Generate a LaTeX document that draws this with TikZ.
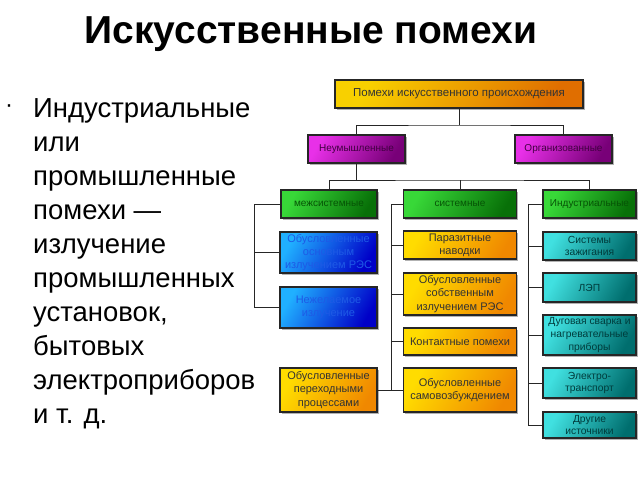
\documentclass[tikz,border=0pt]{standalone}
\usepackage{fontspec}
\setmainfont{Liberation Sans}
\usetikzlibrary{shadows}
\definecolor{goldA}{HTML}{F8D000}
\definecolor{goldB}{HTML}{E06E00}
\definecolor{purA}{HTML}{E830E8}
\definecolor{purB}{HTML}{780078}
\definecolor{grnA}{HTML}{38D838}
\definecolor{grnB}{HTML}{087008}
\definecolor{bluA}{HTML}{20B0FF}
\definecolor{bluB}{HTML}{0000C8}
\definecolor{bluT}{HTML}{1E5AE6}
\definecolor{orA}{HTML}{FFDC00}
\definecolor{orB}{HTML}{F08800}
\definecolor{tlA}{HTML}{40E0E0}
\definecolor{tlB}{HTML}{006E6E}
\begin{document}
\begin{tikzpicture}[x=1pt,y=-1pt,
  box/.style={draw=black!85, line width=1.1pt, inner sep=0pt, align=center,
    font=\fontsize{11}{13.3}\selectfont,
    drop shadow={shadow xshift=1.8pt, shadow yshift=-1.8pt, opacity=0.3, fill=black}},
  goldbox/.style={box, top color=goldA, bottom color=goldB, shading angle=60, text=black!80,
    font=\fontsize{11.5}{13.3}\selectfont},
  purbox/.style={box, top color=purA, bottom color=purB, shading angle=60, text=purB!55!black,
    font=\fontsize{10}{12}\selectfont},
  grnbox/.style={box, top color=grnA, bottom color=grnB, shading angle=60, text=grnB!75!black,
    font=\fontsize{10}{12}\selectfont},
  blubox/.style={box, top color=bluA, bottom color=bluB, shading angle=60, text=bluT},
  orbox/.style={box, top color=orA, bottom color=orB, shading angle=60, text=black!80},
  tlbox/.style={box, top color=tlA, bottom color=tlB, shading angle=60, text=tlB!55!black,
    font=\fontsize{10.3}{12.8}\selectfont},
  conn/.style={draw=black!85, line width=0.8pt},
  lefttext/.style={anchor=base west, inner sep=0pt, font=\fontsize{27.5}{27.5}\selectfont}
]
\useasboundingbox (0,0) rectangle (640,480);
% title
\node[font=\bfseries\fontsize{39}{39}\selectfont, anchor=base] (title) at (311,43) {Искусственные помехи};
% left text
\node[anchor=base, inner sep=0pt, font=\fontsize{24}{24}\selectfont] (bullet) at (9,112) {·};
\begin{scope}
\clip (0,60) rectangle (255,460);
\foreach \t [count=\i] in {Индустриальные, или, промышленные, помехи —, излучение, промышленных, {установок,}, бытовых, электроприборов, и т. д.}
  \node[lefttext] (l\i) at (33,{117+34*(\i-1)}) {\t};
\end{scope}
% boxes
\node[goldbox, minimum width=248, minimum height=28] (top) at (459,94) {Помехи искусственного происхождения};
\node[purbox, minimum width=97, minimum height=28] (neum) at (356.5,149) {Неумышленные};
\node[purbox, minimum width=97, minimum height=28] (org) at (563.5,149) {Организованные};
\node[grnbox, minimum width=96, minimum height=28] (mezh) at (329,204) {межсистемные};
\node[grnbox, minimum width=113, minimum height=28] (sist) at (460,204) {системные};
\node[grnbox, minimum width=93, minimum height=28] (ind) at (589.5,204) {Индустриальные};
\node[blubox, minimum width=97, minimum height=41] (b1) at (328.5,252.5) {Обусловленные\\основным\\излучением РЭС};
\node[blubox, minimum width=97, minimum height=41] (b2) at (328.5,307.5) {Нежелаемое\\излучение};
\node[orbox, minimum width=97, minimum height=44] (oL) at (328.5,390) {Обусловленные\\переходными\\процессами};
\node[orbox, minimum width=113, minimum height=28] (o1) at (460,245) {Паразитные\\наводки};
\node[orbox, minimum width=113, minimum height=42] (o2) at (460,294) {Обусловленные\\собственным\\излучением РЭС};
\node[orbox, minimum width=113, minimum height=27] (o3) at (460,341.5) {Контактные помехи};
\node[orbox, minimum width=113, minimum height=44] (o4) at (460,390) {Обусловленные\\самовозбуждением};
\node[tlbox, minimum width=93, minimum height=28] (t1) at (589.5,246) {Системы\\зажигания};
\node[tlbox, minimum width=93, minimum height=29] (t2) at (589.5,287.5) {ЛЭП};
\node[tlbox, minimum width=93, minimum height=40] (t3) at (589.5,335) {Дуговая сварка и\\нагревательные\\приборы};
\node[tlbox, minimum width=93, minimum height=30] (t4) at (589.5,383) {Электро-\\транспорт};
\node[tlbox, minimum width=93, minimum height=26] (t5) at (589.5,425) {Другие\\источники};
% junctions
\coordinate (j1) at (459,125);
\coordinate (j2) at (460,180);
\coordinate (c1) at (254,0);
\coordinate (c2) at (391,0);
\coordinate (c3) at (528,0);
% connectors
\path[conn] (top.south) -- (j1);
\path[conn] (neum.north) |- (j1) -| (org.north);
\path[conn] (neum.south) -- (neum.south |- j2);
\path[conn] (mezh.north) |- (j2) -| (ind.north);
\path[conn] (j2) -- (sist.north);
\path[conn] (mezh.west) -- (mezh.west -| c1) -- (b2.west -| c1) -- (b2.west);
\path[conn] (b1.west) -- (b1.west -| c1);
\path[conn] (sist.west) -- (sist.west -| c2) -- (o4.west -| c2) -- (o4.west);
\path[conn] (o1.west) -- (o1.west -| c2);
\path[conn] (o2.west) -- (o2.west -| c2);
\path[conn] (o3.west) -- (o3.west -| c2);
\path[conn] (oL.east) -- (oL.east -| c2);
\path[conn] (ind.west) -- (ind.west -| c3) -- (t5.west -| c3) -- (t5.west);
\path[conn] (t1.west) -- (t1.west -| c3);
\path[conn] (t2.west) -- (t2.west -| c3);
\path[conn] (t3.west) -- (t3.west -| c3);
\path[conn] (t4.west) -- (t4.west -| c3);
\end{tikzpicture}
\end{document}
